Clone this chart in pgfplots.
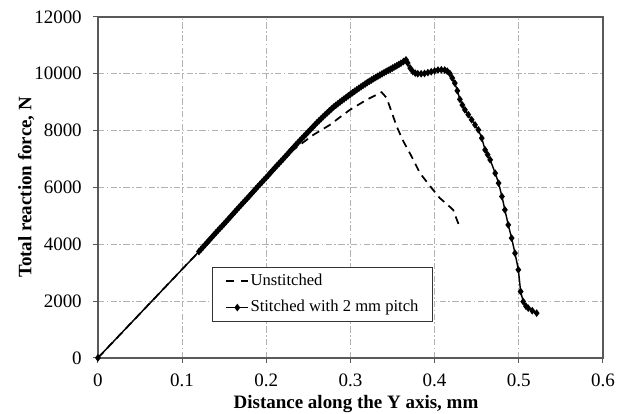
\documentclass[border=0pt]{standalone}
\usepackage{fontspec}
\setmainfont{Liberation Serif}
\usepackage{pgfplots}
\pgfplotsset{compat=1.18}
\pgfplotsset{
  dashleg/.style={legend image code/.code={\draw[##1, dash pattern=on 5pt off 4.5pt] (0pt,0pt) -- (14pt,0pt);}},
  markleg/.style={legend image code/.code={\draw[##1, mark repeat=2, mark phase=2] plot coordinates {(0pt,0pt) (7pt,0pt) (14pt,0pt)};}},
}
\begin{document}
\begin{tikzpicture}
\begin{axis}[
  scale only axis,
  width=319.2pt, height=215.5pt,
  xmin=0, xmax=0.6, ymin=0, ymax=12000,
  xtick={0,0.1,0.2,0.3,0.4,0.5,0.6},
  ytick={0,2000,4000,6000,8000,10000,12000},
  xticklabels={0,0.1,0.2,0.3,0.4,0.5,0.6},
  /pgf/number format/assume math mode=true,
  /pgf/number format/set thousands separator={},
  scaled y ticks=false,
  tick label style={font=\fontsize{12}{14}\selectfont},
  xticklabel style={yshift=-3.5pt},
  yticklabel style={xshift=-3.5pt},
  tick align=outside,
  major tick length=3.2pt,
  xtick pos=bottom, ytick pos=left,
  axis line style={draw=black!65, line width=0.8pt},
  every tick/.style={draw=black!65, line width=0.6pt},
  grid=major,
  major grid style={draw=black!30, line width=0.5pt, dash pattern=on 4pt off 1.5pt on 1pt off 1.5pt},
  xlabel={Distance along the Y axis, mm},
  ylabel={Total reaction force, N},
  label style={font=\bfseries\fontsize{12}{14}\selectfont},
  xlabel style={at={([xshift=3.5pt,yshift=-31.9pt]axis description cs:0.5,0)}, anchor=base},
  ylabel style={at={([xshift=-42pt]axis description cs:0,0.5)}, anchor=base},
  legend style={at={(axis cs:0.1358,3214)}, anchor=north west,
    draw=black!80, line width=0.6pt, fill=white,
    font=\fontsize{10.5}{12}\selectfont,
    inner xsep=8pt, inner ysep=3pt, row sep=4.5pt,
    nodes={inner sep=0.8pt, text height=8pt, text depth=2.5pt}},
  legend cell align=left,
]
\addplot[black, line width=1.1pt, dash pattern=on 5pt off 3.5pt, dashleg]
coordinates {
(0,0) (0.12,3740) (0.20,6350) (0.22,6990) (0.23,7270) (0.24,7500)
(0.256,7850) (0.2756,8200) (0.2875,8470) (0.2994,8730) (0.319,9080)
(0.337,9350) (0.343,9150) (0.349,8650) (0.355,8140) (0.363,7615)
(0.3727,7085) (0.3826,6500) (0.3965,5975) (0.4063,5620) (0.415,5400)
(0.422,5210) (0.428,4740) (0.429,4565)
};
\addlegendentry{Unstitched}
\addplot[black, line width=0.9pt, mark=diamond*, mark size=1.7pt, markleg]
coordinates {
(0,0)
(0.120,3740) (0.1225,3822) (0.125,3905) (0.1275,3988) (0.130,4070) (0.1325,4152)
(0.135,4235) (0.1375,4318) (0.140,4400) (0.1425,4480) (0.145,4560) (0.1475,4640)
(0.150,4720) (0.1525,4802) (0.155,4885) (0.1575,4968) (0.160,5050) (0.1625,5132)
(0.165,5215) (0.1675,5298) (0.170,5380) (0.1725,5460) (0.175,5540) (0.1775,5620)
(0.180,5700) (0.1825,5782) (0.185,5865) (0.1875,5948) (0.190,6030) (0.1925,6110)
(0.195,6190) (0.1975,6270) (0.200,6350) (0.2025,6432) (0.205,6515) (0.2075,6598)
(0.210,6680) (0.2125,6760) (0.215,6840) (0.2175,6920) (0.220,7000) (0.2225,7082)
(0.225,7165) (0.2275,7248) (0.230,7330) (0.2325,7410) (0.235,7490) (0.2375,7570)
(0.240,7650) (0.2425,7728) (0.245,7805) (0.2475,7882) (0.250,7960) (0.2525,8038)
(0.255,8115) (0.2575,8192) (0.260,8270) (0.2625,8342) (0.265,8415) (0.2675,8488)
(0.270,8560) (0.2725,8628) (0.275,8695) (0.2775,8762) (0.280,8830) (0.2825,8888)
(0.285,8945) (0.2875,9002) (0.290,9060) (0.2925,9115) (0.295,9170) (0.2975,9225)
(0.300,9280) (0.3025,9332) (0.305,9385) (0.3075,9438) (0.310,9490) (0.3125,9540)
(0.315,9590) (0.3175,9640) (0.320,9690) (0.3225,9735) (0.325,9780) (0.3275,9825)
(0.330,9870) (0.3325,9912) (0.335,9955) (0.3375,9998) (0.340,10040) (0.3425,10080)
(0.345,10120) (0.3475,10160) (0.350,10200) (0.3525,10242) (0.355,10285) (0.3575,10328)
(0.360,10370) (0.363,10430) (0.366,10490)
(0.368,10380) (0.371,10200) (0.374,10080) (0.377,10020) (0.380,10000)
(0.384,10000) (0.388,10010) (0.392,10040) (0.396,10070) (0.400,10100)
(0.404,10130) (0.408,10140) (0.412,10130) (0.415,10090) (0.418,10010)
(0.421,9850) (0.424,9670) (0.427,9400) (0.430,9100) (0.433,8900)
(0.436,8730) (0.440,8560) (0.444,8380) (0.448,8200) (0.452,8025)
(0.456,7735) (0.460,7320) (0.463,7150) (0.466,6970) (0.472,6500)
(0.476,6150) (0.480,5680) (0.4835,5210) (0.4875,4680) (0.4915,4215)
(0.4955,3685) (0.4995,3100) (0.5022,2335) (0.5053,1980) (0.5085,1820)
(0.5112,1750) (0.516,1660) (0.5212,1575)
};
\addlegendentry{Stitched with 2 mm pitch}
\end{axis}
\pgfresetboundingbox
\path ([shift={(-61.9pt,-35.4pt)}]current axis.south west) rectangle ([shift={(15.2pt,10.7pt)}]current axis.north east);
\end{tikzpicture}
\end{document}
